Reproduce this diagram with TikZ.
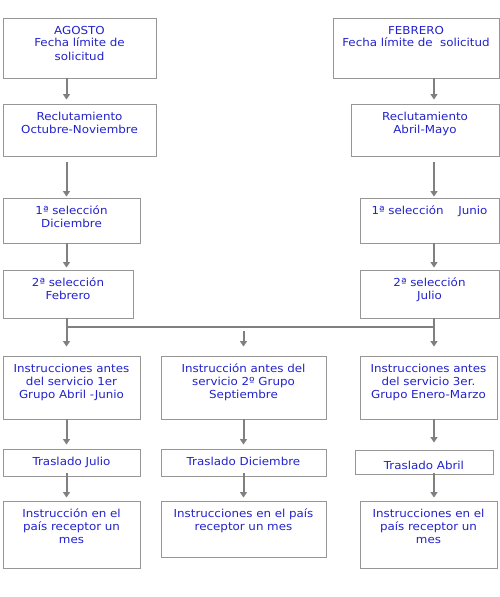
\documentclass[tikz,border=0pt]{standalone}
\usepackage{fontspec}
\setmainfont[FakeStretch=1.08]{DejaVu Sans}
\usepackage{tikz}
\usetikzlibrary{arrows.meta}
\definecolor{azul}{RGB}{34,34,204}
\definecolor{borde}{RGB}{150,150,150}
\definecolor{gris}{RGB}{128,128,128}

\begin{document}
\begin{tikzpicture}[x=1pt,y=-1pt,auto]
		 \tikzstyle{caja}=[draw=borde,line width=0.9pt,rectangle,align=center,inner sep=0pt,text height=16pt,text=azul,font=\fontsize{11}{13}\selectfont]
		 \tikzstyle{flecha}=[draw=gris,line width=2pt,-{Triangle[width=7pt,length=5.5pt]}]
		 \tikzstyle{linea}=[draw=gris,line width=2pt]
		  \useasboundingbox (0,0) rectangle (500,597);

		  % columna de agosto
		  \node[caja,text width=153pt,text depth=44pt]  (1) at (79.5,48) {AGOSTO\\ Fecha límite de\\ solicitud};
		  \node[caja,text width=153pt,text depth=36pt]  (2) [node distance=82pt,below of=1] {Reclutamiento\\ Octubre-Noviembre};
		  \node[caja,text width=137pt,text depth=29pt]  (3) [node distance=90.5pt,below of=2,xshift=-8pt] {1ª selección\\ Diciembre};
		  \node[caja,text width=130pt,text depth=32pt]  (4) [node distance=73.5pt,below of=3,xshift=-3.5pt] {2ª selección\\ Febrero};

		  % columna de febrero
		  \node[caja,text width=166pt,text depth=44pt]  (5) [node distance=336.5pt,right of=1] {FEBRERO\\ Fecha límite de\ \ solicitud};
		  \node[caja,text width=148pt,text depth=36pt]  (6) [node distance=82pt,below of=5,xshift=9pt] {Reclutamiento\\ Abril-Mayo};
		  \node[caja,text width=139pt,text depth=29pt]  (7) [node distance=90.5pt,below of=6,xshift=4.5pt] {1ª selección\quad\ Junio};
		  \node[caja,text width=139pt,text depth=32pt]  (8) [node distance=73.5pt,below of=7] {2ª selección\\ Julio};

		  % grupos
		  \node[caja,text width=137pt,text depth=47pt]  (9) [node distance=93.5pt,below of=4,xshift=3.5pt] {Instrucciones antes\\ del servicio 1er\\ Grupo Abril -Junio};
		  \node[caja,text width=165pt,text depth=47pt]  (10) [node distance=172pt,right of=9] {Instrucción antes del\\ servicio 2º Grupo\\ Septiembre};
		  \node[caja,text width=137pt,text depth=47pt]  (11) [node distance=185pt,right of=10] {Instrucciones antes\\ del servicio 3er.\\ Grupo Enero-Marzo};

		  \node[caja,text width=137pt,text depth=11pt]  (12) [node distance=75pt,below of=9] {Traslado Julio};
		  \node[caja,text width=165pt,text depth=11pt]  (13) [node distance=75pt,below of=10] {Traslado Diciembre};
		  \node[caja,text width=138pt,text height=19pt,text depth=5pt]  (14) [node distance=74.5pt,below of=11,xshift=-4.5pt] {Traslado Abril};

		  \node[caja,text width=137pt,text depth=51pt]  (15) [node distance=72pt,below of=12] {Instrucción en el\\ país receptor un\\ mes};
		  \node[caja,text width=165pt,text depth=40pt]  (16) [node distance=66.5pt,below of=13] {Instrucciones en el país\\ receptor un mes};
		  \node[caja,text width=137pt,text depth=51pt]  (17) [node distance=72.5pt,below of=14,xshift=4.5pt] {Instrucciones en el\\ país receptor un\\ mes};

		  \coordinate (xL) at (66.5,0);
		  \coordinate (xM) at (243.5,0);
		  \coordinate (xR) at (434,0);
		  \coordinate (jL) at (66.5,327);
		  \coordinate (jR) at (434,327);
		  \coordinate (jM) at (243.5,331);

		  \path(1.south -| xL) edge[flecha,shorten >=4pt]  (2.north -| xL);
		  \path(2.south -| xL) edge[flecha,shorten <=6pt,shorten >=1pt]  (3.north -| xL);
		  \path(3.south -| xL) edge[flecha,shorten >=2pt]  (4.north -| xL);
		  \path(5.south -| xR) edge[flecha,shorten >=4pt]  (6.north -| xR);
		  \path(6.south -| xR) edge[flecha,shorten <=6pt,shorten >=1pt]  (7.north -| xR);
		  \path(7.south -| xR) edge[flecha,shorten >=2pt]  (8.north -| xR);

		  \path(jL) edge[linea]  (jR);
		  \path(4.south -| xL) edge[flecha,shorten >=9pt]  (9.north -| xL);
		  \path(8.south -| xR) edge[flecha,shorten >=9pt]  (11.north -| xR);
		  \path(jM) edge[flecha,shorten >=9pt]  (10.north -| xM);

		  \path(9.south -| xL) edge[flecha,shorten >=4pt]  (12.north -| xL);
		  \path(10.south -| xM) edge[flecha,shorten >=4pt]  (13.north -| xM);
		  \path(11.south -| xR) edge[flecha,shorten >=7pt]  (14.north -| xR);
		  \path(12.south -| xL) edge[flecha,shorten <=-3pt,shorten >=3pt]  (15.north -| xL);
		  \path(13.south -| xM) edge[flecha,shorten <=-3pt,shorten >=3pt]  (16.north -| xM);
		  \path(14.south -| xR) edge[flecha,shorten <=-1pt,shorten >=3pt]  (17.north -| xR);

		\end{tikzpicture}
\end{document}
